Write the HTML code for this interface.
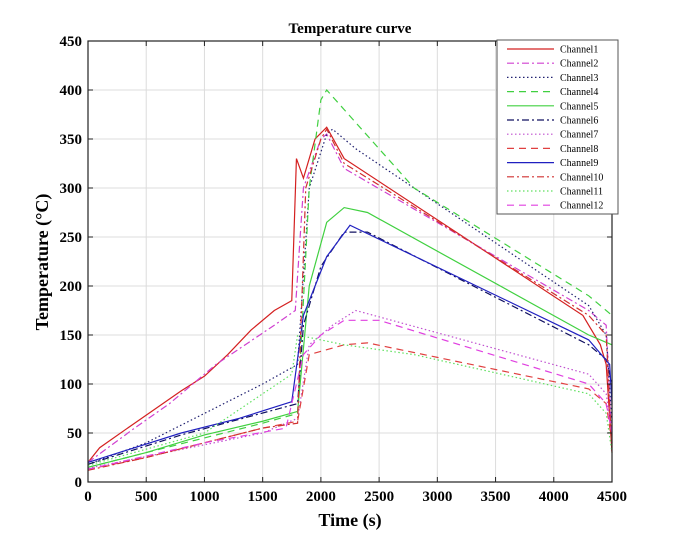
<!DOCTYPE html>
<html><head><meta charset="utf-8"><style>
html,body{margin:0;padding:0;background:#fff;width:676px;height:542px;overflow:hidden}
text{font-family:"Liberation Serif",serif}
</style></head><body>
<svg id="s" width="676" height="542" xmlns="http://www.w3.org/2000/svg">
<rect width="676" height="542" fill="#fff"/>
<g id="grid" stroke="#dcdcdc" stroke-width="1"></g>
<g id="curves" fill="none" stroke-width="1.2"></g>
<rect x="88" y="41" width="524" height="441" fill="none" stroke="#222" stroke-width="1.2"/>
<g id="ticks" stroke="#222" stroke-width="1"></g>
<g id="labels" font-size="15" font-weight="bold" fill="#000"></g>
<text x="350" y="33" text-anchor="middle" font-size="15" font-weight="bold">Temperature curve</text>
<text x="350" y="526" text-anchor="middle" font-size="18" font-weight="bold">Time (s)</text>
<text transform="translate(48,262) rotate(-90)" text-anchor="middle" font-size="18" font-weight="bold">Temperature (°C)</text>
<rect x="497" y="40" width="121" height="174" fill="#fff" stroke="#555" stroke-width="1"/>
<g id="legend" font-size="10"></g>
</svg>
<script>
const NS="http://www.w3.org/2000/svg";
const X=t=>88+t*524/4500, Y=v=>482-v*0.98;
function el(p,tag,a,txt){const e=document.createElementNS(NS,tag);for(const k in a)e.setAttribute(k,a[k]);if(txt!==undefined)e.textContent=txt;document.getElementById(p).appendChild(e);return e;}
for(let t=500;t<4500;t+=500){el('grid','line',{x1:X(t),x2:X(t),y1:41,y2:482});}
for(let v=50;v<450;v+=50){el('grid','line',{x1:88,x2:612,y1:Y(v),y2:Y(v)});}
for(let t=0;t<=4500;t+=500){el('ticks','line',{x1:X(t),x2:X(t),y1:482,y2:477});el('ticks','line',{x1:X(t),x2:X(t),y1:41,y2:46});el('labels','text',{x:X(t),y:501,'text-anchor':'middle'},t);}
for(let v=0;v<=450;v+=50){el('ticks','line',{x1:88,x2:93,y1:Y(v),y2:Y(v)});el('ticks','line',{x1:612,x2:607,y1:Y(v),y2:Y(v)});el('labels','text',{x:82,y:Y(v)+5,'text-anchor':'end'},v);}
const D={solid:'',dashdot:'7,3,2,3',dot:'1.5,2.5',dash:'7,5'};
const C=[
['Channel1','#d42020','solid',[[0,20],[100,35],[400,60],[800,93],[1000,108],[1200,130],[1400,155],[1600,175],[1750,185],[1790,330],[1850,310],[1950,350],[2050,362],[2200,330],[4250,170],[4400,140],[4450,120],[4500,30]]],
['Channel2','#d040d0','dashdot',[[0,20],[400,55],[700,80],[1100,120],[1600,160],[1780,175],[1850,300],[2000,350],[2050,355],[2200,320],[4300,175],[4450,160],[4500,40]]],
['Channel3','#202070','dot',[[0,18],[500,40],[1000,70],[1500,100],[1800,120],[1900,300],[2050,355],[2100,360],[2300,340],[4300,180],[4450,150],[4500,60]]],
['Channel4','#40d040','dash',[[0,15],[500,30],[1000,45],[1500,60],[1800,70],[1900,300],[2000,390],[2050,400],[2200,380],[2800,300],[4300,190],[4500,170]]],
['Channel5','#40d040','solid',[[0,15],[500,30],[1000,48],[1500,62],[1800,72],[1900,200],[2050,265],[2200,280],[2400,275],[4300,150],[4500,140]]],
['Channel6','#101060','dashdot',[[0,18],[800,48],[1800,80],[1850,160],[2000,220],[2200,255],[2400,255],[4300,140],[4450,125],[4500,100]]],
['Channel7','#c050d0','dot',[[0,14],[1500,50],[1800,65],[1900,140],[2100,160],[2300,175],[4300,110],[4450,90],[4500,50]]],
['Channel8','#e04040','dash',[[0,13],[500,25],[1000,40],[1500,55],[1800,62],[1900,130],[2200,140],[2400,142],[4300,95],[4450,80],[4500,40]]],
['Channel9','#2020c0','solid',[[0,20],[800,50],[1300,65],[1750,82],[1850,170],[2050,230],[2250,262],[4300,145],[4480,120],[4500,80]]],
['Channel10','#d03030','dashdot',[[0,12],[500,25],[1000,40],[1500,55],[1800,60],[1870,300],[2000,350],[2050,360],[2200,325],[4300,170],[4450,150],[4500,30]]],
['Channel11','#60e060','dot',[[0,17],[1000,50],[1500,90],[1750,110],[1800,150],[2000,145],[2200,140],[2800,130],[4300,90],[4450,70],[4500,30]]],
['Channel12','#e040e0','dash',[[0,13],[1000,40],[1700,55],[1850,130],[2000,150],[2200,165],[2500,165],[4300,100],[4450,80],[4500,50]]]];
C.forEach((c,i)=>{
 el('curves','polyline',{points:c[3].map(p=>X(p[0])+','+Y(p[1])).join(' '),stroke:c[1],'stroke-dasharray':D[c[2]]});
 const y=49+i*14.2;
 el('legend','line',{x1:507,x2:554,y1:y,y2:y,stroke:c[1],'stroke-dasharray':D[c[2]],'stroke-width':1.2});
 el('legend','text',{x:560,y:y+3.5},c[0]);
});
</script>
</body></html>
